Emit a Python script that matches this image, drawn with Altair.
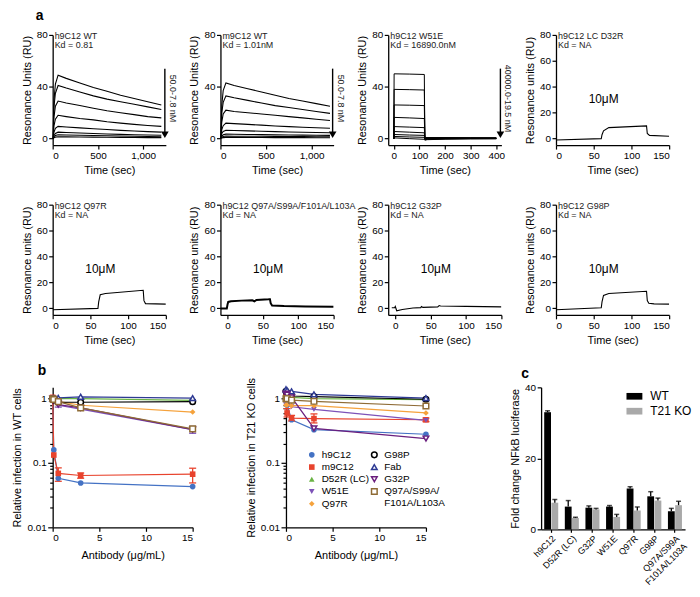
import altair as alt
import pandas as pd

FONT = "Liberation Sans"

# ---------------- a: SPR sensorgrams ----------------
t_long = [0, 15, 30, 60, 150, 300, 450, 600, 750, 900, 1050, 1200]
h9c12_wt_curves = [
    [0, 30, 42, 49, 46.5, 43, 39.5, 36.5, 33.5, 31, 28.5, 26],
    [0, 25, 35, 41, 39, 36, 33, 30.5, 28.5, 26.5, 24.5, 22.5],
    [0, 17, 25, 29, 27.5, 25.5, 23.5, 21.5, 20, 18.5, 17, 16],
    [0, 10, 15, 18, 17, 15.5, 14.5, 13, 12, 11, 10.2, 9.5],
    [0, 5, 8, 9.5, 9, 8.3, 7.6, 7, 6.4, 5.9, 5.4, 5],
    [0, 2.5, 4, 5, 4.7, 4.3, 4, 3.6, 3.3, 3, 2.8, 2.6],
    [0, 1.5, 2.4, 3, 2.8, 2.6, 2.4, 2.2, 2, 1.8, 1.7, 1.5],
    [0, 0.7, 1.2, 1.5, 1.4, 1.3, 1.2, 1.1, 1, 0.9, 0.8, 0.8],
]
m9c12_wt_curves = [
    [0, 26, 37, 43, 41, 38.5, 36, 33.5, 31, 29, 27, 25],
    [0, 20, 28, 33, 31.5, 29.5, 27.5, 25.5, 24, 22.5, 21, 19.5],
    [0, 13, 19, 22, 21, 20, 19, 18, 17, 16, 15, 14],
    [0, 7, 10, 12, 11.6, 11, 10.4, 9.8, 9.3, 8.8, 8.4, 8],
    [0, 4, 5.5, 6.5, 6.3, 6, 5.7, 5.4, 5.1, 4.9, 4.7, 4.5],
    [0, 2, 3, 3.5, 3.4, 3.2, 3.1, 2.9, 2.8, 2.7, 2.6, 2.5],
    [0, 1.2, 1.7, 2, 1.9, 1.8, 1.8, 1.7, 1.6, 1.6, 1.5, 1.5],
    [0, 0.6, 0.8, 1, 1, 0.9, 0.9, 0.8, 0.8, 0.8, 0.7, 0.7],
]
t_w51e = [0, 1, 60, 119, 121, 130, 200, 300, 400]
w51e_curves = [
    [0, 50, 49.8, 49.5, 1.0, 0.8, 0.7, 0.6, 0.5],
    [0, 38, 37.8, 37.5, 0.8, 0.6, 0.6, 0.5, 0.5],
    [0, 26, 25.8, 25.5, 0.6, 0.5, 0.5, 0.4, 0.4],
    [0, 16.4, 16, 15.5, 0.4, 0.4, 0.4, 0.4, 0.3],
    [0, 9.3, 8.9, 8.5, 0.2, 0.3, 0.3, 0.3, 0.3],
    [0, 5.5, 5, 4.5, 0, 0.1, 0.2, 0.2, 0.2],
    [0, 3.2, 2.8, 2.5, -0.4, -0.2, 0, 0.1, 0.1],
    [0, 1.7, 1.3, 1.0, -0.8, -0.5, -0.2, 0, 0],
    [0, 0.6, 0, -0.5, -1.2, -0.8, -0.4, -0.2, -0.1],
]
t_d32r = [0, 60, 61, 63, 70, 120, 121, 124, 150]
d32r_vals = [-1, 0, 3, 6, 8.5, 9.8, 4, 2.5, 1.8]
t_q97r = [0, 60, 61, 63, 70, 120, 121, 123, 150]
q97r_vals = [-1, 0, 5, 10.5, 11.5, 14, 6, 3.7, 3.3]
t_quad = [-10, -1, 0, 1, 5, 20, 35, 38, 41, 58, 60, 61, 63, 80, 110, 150]
quad_vals = [0, 0, 3, 5, 5.5, 6, 6.2, 5.5, 6.5, 7, 7.1, 4, 2.2, 1.8, 1.5, 1.2]
t_g32p = [-5, -1, 0, 2, 10, 25, 36, 37, 39, 60, 62, 64, 100, 150]
g32p_vals = [0.5, 0.5, 1.5, -1.8, -0.8, 0.3, 0.6, 1.5, 0.8, 1.2, 2.2, 1.8, 1.6, 1.2]
t_g98p = [0, 60, 61, 63, 70, 120, 121, 123, 130, 150]
g98p_vals = [-1, 0.5, 5, 10, 11.5, 13.2, 6, 4, 3.5, 3.3]

spr_names = ["h9C12 WT", "m9C12 WT", "h9C12 W51E", "h9C12 LC D32R",
             "h9C12 Q97R", "h9C12 Q97A/S99A/F101A/L103A", "h9C12 G32P", "h9C12 G98P"]
spr_kd = ["Kd = 0.81", "Kd = 1.01nM", "Kd = 16890.0nM", "Kd = NA",
          "Kd = NA", "Kd = NA", "Kd = NA", "Kd = NA"]
arrow_labels = ["50.0-7.8 nM", "50.0-7.8 nM", "40000.0-19.5 nM"]
conc_label = "10\u03bcM"
y_ticks_a = [0, 20, 40, 60, 80]

# ---------------- b: infection ----------------
b_conc = [0, 0.12, 0.6, 3, 15]
filled_series = ["h9C12", "m9C12", "D52R (LC)", "W51E", "Q97R"]
filled_colors = ["#4472c4", "#e8432d", "#6ab344", "#7d52b8", "#f5a23c"]
filled_shapes = ["circle", "square", "triangle-up", "triangle-down", "diamond"]
open_series = ["G98P", "Fab", "G32P", "Q97A/S99A/F101A/L103A"]
open_colors = ["#000000", "#2e3a94", "#6b1f7e", "#8e6b35"]
open_shapes = ["circle", "triangle-up", "triangle-down", "square"]
b_series = filled_series + open_series
b_colors = filled_colors + open_colors

wt_infection = {
    "h9C12": [1.0, 0.16, 0.058, 0.049, 0.043],
    "m9C12": [1.05, 0.133, 0.069, 0.064, 0.067],
    "D52R (LC)": [1.0, 1.0, 1.0, 1.0, 0.94],
    "W51E": [1.0, 0.95, 0.79, 0.69, 0.33],
    "Q97R": [1.0, 0.97, 0.91, 0.79, 0.62],
    "G98P": [1.0, 0.95, 0.88, 0.88, 0.9],
    "Fab": [1.0, 1.0, 1.03, 1.07, 1.02],
    "G32P": [1.0, 0.95, 0.81, 0.72, 0.33],
    "Q97A/S99A/F101A/L103A": [1.0, 0.97, 0.9, 0.72, 0.34],
}
wt_err_series = ["m9C12", "m9C12", "m9C12", "W51E", "W51E"]
wt_err_conc = [0.6, 3, 15, 0.6, 15]
wt_err_lo = [0.052, 0.058, 0.049, 0.74, 0.29]
wt_err_hi = [0.084, 0.070, 0.083, 0.85, 0.37]

ko_infection = {
    "h9C12": [1.0, 0.8, 0.47, 0.33, 0.28],
    "m9C12": [1.1, 0.6, 0.5, 0.49, 0.47],
    "D52R (LC)": [1.15, 1.1, 1.05, 1.0, 0.97],
    "W51E": [0.8, 0.78, 0.75, 0.68, 0.46],
    "Q97R": [0.8, 0.8, 0.78, 0.78, 0.6],
    "G98P": [1.3, 1.2, 1.1, 1.08, 0.98],
    "Fab": [1.4, 1.35, 1.3, 1.17, 1.02],
    "G32P": [1.2, 1.15, 1.05, 0.345, 0.24],
    "Q97A/S99A/F101A/L103A": [1.0, 1.0, 0.95, 0.91, 0.77],
}
ko_err_series = ["m9C12", "m9C12", "m9C12", "m9C12"]
ko_err_conc = [0.12, 0.6, 3, 15]
ko_err_lo = [0.52, 0.45, 0.42, 0.44]
ko_err_hi = [0.70, 0.55, 0.58, 0.50]

log_ticks = [0.01, 0.02, 0.03, 0.04, 0.05, 0.06, 0.07, 0.08, 0.09,
             0.1, 0.2, 0.3, 0.4, 0.5, 0.6, 0.7, 0.8, 0.9, 1]

# ---------------- c: NFkB luciferase ----------------
c_cats = ["h9C12", "D52R (LC)", "G32P", "W51E", "Q97R", "G98P", "Q97A/S99A/F101A/L103A"]
c_groups = ["WT", "T21 KO"]
c_wt = [33.0, 6.4, 6.1, 6.4, 11.5, 9.3, 5.1]
c_wt_err = [0.4, 1.7, 0.5, 0.3, 0.5, 1.3, 0.8]
c_ko = [7.5, 3.2, 5.6, 3.5, 5.3, 8.1, 6.8]
c_ko_err = [0.9, 0.2, 0.3, 0.7, 1.0, 0.7, 1.1]

# ================= builders =================
W_A, H_A = 114, 111


def curves_df(t, curves):
    rows = []
    for ci, vals in enumerate(curves):
        for i, (tt, vv) in enumerate(zip(t, vals)):
            rows.append({"t": tt, "v": vv, "curve": ci, "i": i})
    return pd.DataFrame(rows)


def spr_panel(df, xdom, xticks, ytitle, name, kd, arrow_label=None, conc=None,
              letter=None, sw=1.1):
    x = alt.X("t:Q", scale=alt.Scale(domain=xdom, nice=False, zero=False),
              axis=alt.Axis(values=xticks, title="Time (sec)"))
    y = alt.Y("v:Q", scale=alt.Scale(domain=[-5, 80], nice=False, zero=False),
              axis=alt.Axis(values=y_ticks_a, title=ytitle))
    layers = [alt.Chart(df).mark_line(color="black", strokeWidth=sw, clip=True).encode(
        x=x, y=y, detail="curve:N", order="i:Q")]
    ann = pd.DataFrame({"name": [name], "kd": [kd]})
    layers.append(alt.Chart(ann).mark_text(align="left", baseline="middle", fontSize=9,
                                           color="#222").encode(
        x=alt.value(2), y=alt.value(1), text="name:N"))
    layers.append(alt.Chart(ann).mark_text(align="left", baseline="middle", fontSize=9,
                                           color="#222").encode(
        x=alt.value(2), y=alt.value(10), text="kd:N"))
    if arrow_label:
        ad = pd.DataFrame({"lab": [arrow_label]})
        layers.append(alt.Chart(ad).mark_rule(color="black", strokeWidth=1.4).encode(
            x=alt.value(W_A - 1), y=alt.datum(54), y2=alt.datum(4)))
        layers.append(alt.Chart(ad).mark_point(shape="triangle-down", filled=True, size=60,
                                               color="black", opacity=1).encode(
            x=alt.value(W_A - 1), y=alt.datum(3)))
        layers.append(alt.Chart(ad).mark_text(angle=90, fontSize=9, align="center",
                                              baseline="middle", color="#222").encode(
            x=alt.value(W_A + 7), y=alt.datum(31), text="lab:N"))
    if conc:
        cd = pd.DataFrame({"lab": [conc]})
        layers.append(alt.Chart(cd).mark_text(fontSize=12, align="center",
                                              baseline="middle").encode(
            x=alt.value(48), y=alt.value(65), text="lab:N"))
    if letter:
        ld = pd.DataFrame({"lab": [letter]})
        layers.append(alt.Chart(ld).mark_text(fontSize=14, fontWeight="bold", align="left",
                                              baseline="middle").encode(
            x=alt.value(-17), y=alt.value(-19), text="lab:N"))
    return alt.layer(*layers).properties(width=W_A, height=H_A)


p1 = spr_panel(curves_df(t_long, h9c12_wt_curves), [0, 1250], [0, 500, 1000],
               "Resonance Units (RU)", spr_names[0], spr_kd[0], arrow_labels[0], letter="a")
p2 = spr_panel(curves_df(t_long, m9c12_wt_curves), [0, 1240], [0, 500, 1000],
               "Resonance Units (RU)", spr_names[1], spr_kd[1], arrow_labels[1])
p3 = spr_panel(curves_df(t_w51e, w51e_curves), [-22, 420], [0, 100, 200, 300, 400],
               "Resonance Units (RU)", spr_names[2], spr_kd[2], arrow_labels[2], sw=1.0)
p4 = spr_panel(curves_df(t_d32r, [d32r_vals]), [0, 150], [0, 50, 100, 150],
               "Resonance units (RU)", spr_names[3], spr_kd[3], conc=conc_label)
p5 = spr_panel(curves_df(t_q97r, [q97r_vals]), [0, 150], [0, 50, 100, 150],
               "Resonance units (RU)", spr_names[4], spr_kd[4], conc=conc_label)
p6 = spr_panel(curves_df(t_quad, [quad_vals]), [-10, 150], [0, 50, 100, 150],
               "Resonance units (RU)", spr_names[5], spr_kd[5], conc=conc_label, sw=2.0)
p7 = spr_panel(curves_df(t_g32p, [g32p_vals]), [-10, 150], [0, 50, 100, 150],
               "Resonance units (RU)", spr_names[6], spr_kd[6], conc=conc_label)
p8 = spr_panel(curves_df(t_g98p, [g98p_vals]), [0, 150], [0, 50, 100, 150],
               "Resonance units (RU)", spr_names[7], spr_kd[7], conc=conc_label)

row1 = alt.hconcat(p1, p2, p3, p4, spacing=55, bounds="flush")
row2 = alt.hconcat(p5, p6, p7, p8, spacing=55, bounds="flush")


def make_legend(x, y):
    return alt.Legend(title=None, orient="none", legendX=x, legendY=y, rowPadding=0.3,
                      labelFontSize=10, symbolSize=32, symbolStrokeWidth=1.5, padding=0,
                      labelOffset=5, symbolOpacity=1,
                      labelExpr="datum.label == 'Q97A/S99A/F101A/L103A' ? ['Q97A/S99A/', 'F101A/L103A'] : datum.label")


def infection_panel(vals, err_series, err_conc, err_lo, err_hi, ytitle, with_legend,
                    letter=None, width=141, height=141):
    rows = []
    for s in b_series:
        for i, c in enumerate(b_conc):
            rows.append({"conc": c, "val": vals[s][i], "series": s})
    df = pd.DataFrame(rows)
    df_f = df[df["series"].isin(filled_series)]
    df_o = df[df["series"].isin(open_series)]
    edf = pd.DataFrame({"series": err_series, "conc": err_conc, "lo": err_lo, "hi": err_hi})
    x = alt.X("conc:Q", scale=alt.Scale(domain=[0, 15], nice=False, zero=False),
              axis=alt.Axis(values=[0, 5, 10, 15], title="Antibody (\u03bcg/mL)",
                            titlePadding=7))
    yscale = alt.Scale(type="log", domain=[0.01, 1.5], nice=False)
    yaxis = alt.Axis(values=log_ticks, title=ytitle,
                     labelExpr="datum.value == 1 ? '1' : datum.value == 0.1 ? '0.1' : datum.value == 0.01 ? '0.01' : ''",
                     tickSize={"condition": {"test": "datum.value == 1 || datum.value == 0.1 || datum.value == 0.01",
                                             "value": 5}, "value": 3})
    y = alt.Y("val:Q", scale=yscale, axis=yaxis)
    stroke = alt.Stroke("series:N", scale=alt.Scale(domain=b_series, range=b_colors),
                        legend=None)
    leg_f = make_legend(21, 63) if with_legend else None
    leg_o = make_legend(84, 63) if with_legend else None
    lines = alt.Chart(df).mark_line(strokeWidth=1.2).encode(x=x, y=y, stroke=stroke)
    errs = alt.Chart(edf).mark_rule(strokeWidth=1.3).encode(
        x="conc:Q", y=alt.Y("lo:Q", scale=yscale), y2="hi:Q", stroke=stroke)
    cap_lo = alt.Chart(edf).mark_point(shape="M-1,0H1", size=50, strokeWidth=1.3,
                                       opacity=1).encode(
        x="conc:Q", y=alt.Y("lo:Q", scale=yscale), stroke=stroke)
    cap_hi = alt.Chart(edf).mark_point(shape="M-1,0H1", size=50, strokeWidth=1.3,
                                       opacity=1).encode(
        x="conc:Q", y=alt.Y("hi:Q", scale=yscale), stroke=stroke)
    pts_f = alt.Chart(df_f).mark_point(filled=True, size=32, opacity=1).encode(
        x=x, y=y,
        color=alt.Color("series:N", scale=alt.Scale(domain=filled_series, range=filled_colors),
                        legend=leg_f),
        shape=alt.Shape("series:N", scale=alt.Scale(domain=filled_series, range=filled_shapes),
                        legend=leg_f))
    pts_o = alt.Chart(df_o).mark_point(filled=False, fill="white", size=32, strokeWidth=1.5,
                                       opacity=1).encode(
        x=x, y=y,
        color=alt.Color("series:N", scale=alt.Scale(domain=open_series, range=open_colors),
                        legend=leg_o),
        shape=alt.Shape("series:N", scale=alt.Scale(domain=open_series, range=open_shapes),
                        legend=leg_o))
    layers = [lines, errs, cap_lo, cap_hi, pts_f, pts_o]
    if letter:
        ld = pd.DataFrame({"lab": [letter]})
        layers.append(alt.Chart(ld).mark_text(fontSize=14, fontWeight="bold", align="left",
                                              baseline="middle").encode(
            x=alt.value(-15), y=alt.value(-16), text="lab:N"))
    return alt.layer(*layers).resolve_scale(color="independent", shape="independent"
                                            ).resolve_legend(color="independent",
                                                             shape="independent"
                                            ).properties(width=width, height=height)


bL = infection_panel(wt_infection, wt_err_series, wt_err_conc, wt_err_lo, wt_err_hi,
                     "Relative infection in WT cells", False, letter="b")
bR = infection_panel(ko_infection, ko_err_series, ko_err_conc, ko_err_lo, ko_err_hi,
                     "Relative infection in T21 KO cells", True)

# panel c
crow = []
for i, cat in enumerate(c_cats):
    crow.append({"cat": cat, "grp": "WT", "val": c_wt[i], "hi": c_wt[i] + c_wt_err[i]})
    crow.append({"cat": cat, "grp": "T21 KO", "val": c_ko[i], "hi": c_ko[i] + c_ko_err[i]})
cdf = pd.DataFrame(crow)
cx = alt.X("cat:N", sort=c_cats, scale=alt.Scale(paddingInner=0.32, paddingOuter=0.15),
           axis=alt.Axis(title=None, labelAngle=-45, labelFontSize=9, tickSize=3,
                         labelExpr="datum.value == 'Q97A/S99A/F101A/L103A' ? ['Q97A/S99A', 'F101A/L103A'] : datum.label"))
cxo = alt.XOffset("grp:N", sort=c_groups, scale=alt.Scale(paddingInner=0.06))
cy_scale = alt.Scale(domain=[0, 40], nice=False)
c_bars = alt.Chart(cdf).mark_bar().encode(
    x=cx, xOffset=cxo,
    y=alt.Y("val:Q", scale=cy_scale, axis=alt.Axis(values=[0, 10, 20, 30, 40],
                                                   title="Fold change NFkB luciferase")),
    color=alt.Color("grp:N", sort=c_groups,
                    scale=alt.Scale(domain=c_groups, range=["#000000", "#a9a9a9"]),
                    legend=alt.Legend(title=None, orient="none", legendX=86, legendY=1,
                                      symbolType="M-1,-0.42H1V0.42H-1Z", symbolSize=256,
                                      labelFontSize=12, rowPadding=1, labelOffset=8,
                                      symbolStrokeWidth=0, padding=0)))
c_err = alt.Chart(cdf).mark_rule(color="black", strokeWidth=1.3).encode(
    x=cx, xOffset=cxo, y=alt.Y("val:Q", scale=cy_scale), y2="hi:Q")
c_cap = alt.Chart(cdf).mark_tick(color="black", orient="horizontal", size=5,
                                 thickness=1.5).encode(
    x=cx, xOffset=cxo, y=alt.Y("hi:Q", scale=cy_scale))
c_letter = alt.Chart(pd.DataFrame({"lab": ["c"]})).mark_text(
    fontSize=14, fontWeight="bold", align="left", baseline="middle").encode(
    x=alt.value(-20), y=alt.value(-13), text="lab:N")
panel_c = alt.layer(c_bars, c_err, c_cap, c_letter).properties(width=145, height=143)


def spacer(w):
    return alt.Chart(pd.DataFrame({"s": [0]})).mark_point(opacity=0).encode(
        x=alt.X("s:Q", axis=None), y=alt.Y("s:Q", axis=None)).properties(width=w, height=20)


row3 = alt.hconcat(bL, spacer(94), bR, spacer(116), panel_c, spacing=0, bounds="flush"
                   ).resolve_scale(color="independent", fill="independent",
                                   stroke="independent", shape="independent"
                   ).resolve_legend(color="independent", fill="independent",
                                    stroke="independent", shape="independent")

top = alt.vconcat(row1, row2, spacing=24)
chart = alt.vconcat(top, row3, spacing=19).properties(
    padding={"left": 4, "top": -1, "right": 0, "bottom": 2}
).configure(font=FONT).configure_axis(
    domainColor="black", domainWidth=1.3, tickColor="black", tickWidth=1.2, tickSize=4,
    labelFontSize=10, titleFontSize=11, titleFontWeight="normal", labelColor="black",
    titleColor="black", grid=False, labelPadding=1.5, titlePadding=4,
    labelFont=FONT, titleFont=FONT, labelOverlap=False
).configure_view(strokeWidth=0).configure_legend(labelFont=FONT, labelColor="black")

chart.save("out.html", embed_options={"renderer": "svg", "actions": False})
